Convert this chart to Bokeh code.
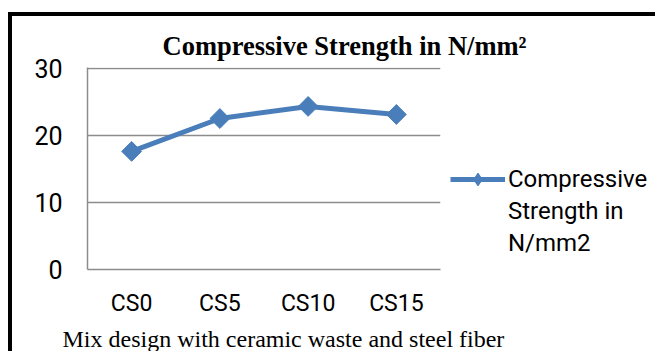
import numpy as np
from bokeh.plotting import figure
from bokeh.models import Legend, LegendItem, Title, FixedTicker, Range1d
from bokeh.embed import file_html
from bokeh.resources import INLINE

categories = ["CS0", "CS5", "CS10", "CS15"]
strength = [17.6, 22.5, 24.3, 23.1]
y_ticks = [0, 10, 20, 30]
legend_lines = ["Compressive", "Strength in", "N/mm2"]
title_text = "Compressive Strength in N/mm\u00b2"
caption_text = "Mix design with ceramic waste and steel  fiber"

BLUE = "#4a7ebb"
GRID = "#8c8c8c"
SANS = "Roboto"
SERIF = "Liberation Serif"

p = figure(
    x_range=categories, y_range=Range1d(0, 30.1),
    frame_width=353, frame_height=202,
    min_border_left=75, min_border_right=207, min_border_top=51, min_border_bottom=81,
    output_backend="svg", toolbar_location=None,
    styles={"border-left": "4px solid black", "border-top": "4px solid black",
            "margin-top": "12px", "margin-left": "8px"},
)
p.outline_line_color = None
p.background_fill_color = "white"
p.border_fill_color = "white"

line_r = p.line(categories, strength, line_color=BLUE, line_width=5)
# diamond glyph drawn beneath the (larger) rotated-square markers; it supplies the legend swatch
swatch_r = p.scatter(categories, strength, marker="diamond", size=15,
                     fill_color=BLUE, line_color=BLUE)
pts_r = p.scatter(categories, strength, marker="square", angle=np.pi / 4, size=14,
                  fill_color=BLUE, line_color=BLUE)

# axes
p.xgrid.grid_line_color = None
p.ygrid.ticker = FixedTicker(ticks=y_ticks)
p.ygrid.grid_line_color = GRID
p.ygrid.grid_line_width = 1.5
p.yaxis.ticker = FixedTicker(ticks=y_ticks)
for ax in (p.xaxis[0], p.yaxis[0]):
    ax.axis_line_color = GRID
    ax.axis_line_width = 1.5
    ax.major_tick_in = 0
    ax.major_tick_out = 0
    ax.minor_tick_in = 0
    ax.minor_tick_out = 0
    ax.major_label_text_font = SANS
    ax.major_label_text_color = "black"
p.yaxis.major_label_text_font_size = "25px"
p.yaxis.major_label_standoff = 25
p.xaxis.major_label_text_font_size = "23px"
p.xaxis.major_label_standoff = 20

# title
p.title.text = title_text
p.title.text_font = SERIF
p.title.text_font_style = "bold"
p.title.text_font_size = "26.5px"
p.title.text_color = "black"
p.title.align = "left"
p.title.offset = 75
p.title.standoff = 14

# caption below
cap = Title(text=caption_text, text_font=SERIF, text_font_style="normal",
            text_font_size="24px", text_color="black", align="left", offset=-25, standoff=8)
p.add_layout(cap, "below")

# legend
items = [LegendItem(label=legend_lines[0], renderers=[line_r, swatch_r])]
for t in legend_lines[1:]:
    items.append(LegendItem(label=t, renderers=[]))
legend = Legend(items=items, location="bottom_left", orientation="vertical",
                glyph_width=55, glyph_height=32, label_standoff=3, spacing=0,
                padding=0, margin=10, border_line_alpha=0, background_fill_alpha=0,
                label_text_font=SANS, label_text_font_size="24px", label_text_color="black",
                label_height=32)
p.add_layout(legend, "right")

open("out.html", "w").write(file_html(p, INLINE))
